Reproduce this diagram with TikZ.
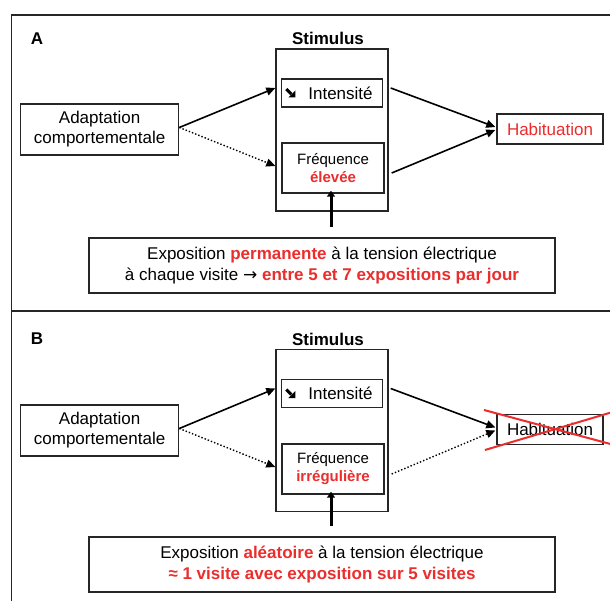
\documentclass[tikz,border=0pt]{standalone}
\usepackage{fontspec}
\setmainfont{Liberation Sans}
\newfontfamily\symfont{DejaVu Sans}
\usetikzlibrary{arrows.meta}
\usetikzlibrary{calc}
\definecolor{alertred}{RGB}{235,45,45}
\newcommand{\alerttext}[1]{\textcolor{alertred}{\bfseries #1}}

\begin{document}
\begin{tikzpicture}[x=1pt,y=-1pt,->,>={Triangle[length=9pt,width=8pt]},line width=1.6pt]
		\tikzset{box/.style = {shape=rectangle, draw=black!85, fill=white, line width=1.4pt, align=center, inner sep=0pt, font=\fontsize{17}{20}\selectfont}}
		\tikzset{title/.style = {inner sep=0pt, font=\bfseries\fontsize{17}{20}\selectfont}}
		\tikzset{panel/.style = {-, draw=black!85, line width=1.6pt}}
		\tikzset{strike/.style = {-, draw=alertred, line width=2pt}}
		\tikzset{push/.style = {line width=3pt, >={Triangle[length=6pt,width=8pt]}}}
		\tikzset{weak/.style = {dotted, line width=1.4pt}}
		\tikzset{down/.style = {-, line width=3pt}}
		\clip (0,0) rectangle (610,601);
		\fill[white] (0,0) rectangle (610,601);
		
		% panel A
		\draw[panel] (11.5,15) rectangle (625,311);
		\node[title] (A-tag) at (37,39) {A};
		\node[title] (A-stimtitle) at (328,38) {Stimulus};
		\node[box, minimum width=112pt, minimum height=162pt] (A-stim) at (332,130) {};
		\node[box, minimum width=101pt, minimum height=28pt] (A-int) at (332,93) {\hspace*{17pt}Intensité};
		\node[box, minimum width=102pt, minimum height=50pt, font=\fontsize{15}{18}\selectfont] (A-freq) at (333,168)
		{ Fréquence\\
			\alerttext{élevée}
		};
		\node[box, minimum width=158pt, minimum height=51pt] (A-adapt) at (99.6,129.5) {Adaptation\\comportementale};
		\node[box, minimum width=106pt, minimum height=30pt, text=alertred] (A-hab) at (550,129) {Habituation};
		\node[box, minimum width=466pt, minimum height=55pt, line width=1.8pt, font=\fontsize{17}{21}\selectfont] (A-expo) at (322,265.5)
		{ Exposition \alerttext{permanente} à la tension électrique\\
			à chaque visite {\symfont →} \alerttext{entre 5 et 7 expositions par jour}
		};
		% lowered intensity mark
		\draw[down] ($(A-int.west)+(5.5,-4)$) -- ($(A-int.west)+(10.5,1)$);
		\fill ($(A-int.west)+(14.5,4.5)$) -- ($(A-int.west)+(14.5,-2.5)$) -- ($(A-int.west)+(7.5,4.5)$) -- cycle;
		\draw ($(A-adapt.east)+(0,-2)$) -- ($(A-stim.west |- A-int)+(0,-5)$);
		\draw[weak] ($(A-adapt.east)+(0,-2)$) -- ($(A-stim.west |- A-freq)+(0,-2)$);
		\draw ($(A-stim.east |- A-int)+(2,-5)$) -- ($(A-hab.west)+(-1,-2)$);
		\draw ($(A-stim.east |- A-freq)+(3,5)$) -- ($(A-hab.west)+(-1,1)$);
		\draw[push] ($(A-expo.north)+(9,-10)$) -- ($(A-freq.south)+(-2,-3)$);
		
		% panel B
		\draw[panel] (11.5,311) rectangle (625,620);
		\node[title] (B-tag) at (37,339) {B};
		\node[title] (B-stimtitle) at (328,339) {Stimulus};
		\node[box, minimum width=112pt, minimum height=162pt] (B-stim) at (332,430.5) {};
		\node[box, minimum width=101pt, minimum height=28pt] (B-int) at (332,393.5) {\hspace*{17pt}Intensité};
		\node[box, minimum width=102pt, minimum height=50pt, font=\fontsize{15}{18}\selectfont] (B-freq) at (333,469)
		{ Fréquence\\
			\alerttext{irrégulière}
		};
		\node[box, minimum width=158pt, minimum height=51pt] (B-adapt) at (99.6,430.5) {Adaptation\\comportementale};
		\node[box, minimum width=106pt, minimum height=30pt] (B-hab) at (550,429.5) {Habituation};
		\node[box, minimum width=466pt, minimum height=55pt, line width=1.8pt, font=\fontsize{17}{21}\selectfont] (B-expo) at (322,564.5)
		{ Exposition \alerttext{aléatoire} à la tension électrique\\
			\alerttext{≈ 1 visite avec exposition sur 5 visites}
		};
		% lowered intensity mark
		\draw[down] ($(B-int.west)+(5.5,-4)$) -- ($(B-int.west)+(10.5,1)$);
		\fill ($(B-int.west)+(14.5,4.5)$) -- ($(B-int.west)+(14.5,-2.5)$) -- ($(B-int.west)+(7.5,4.5)$) -- cycle;
		\draw ($(B-adapt.east)+(0,-2)$) -- ($(B-stim.west |- B-int)+(0,-5)$);
		\draw[weak] ($(B-adapt.east)+(0,-2)$) -- ($(B-stim.west |- B-freq)+(0,-2)$);
		\draw ($(B-stim.east |- B-int)+(2,-5)$) -- ($(B-hab.west)+(-1,-2)$);
		\draw[weak] ($(B-stim.east |- B-freq)+(3,5)$) -- ($(B-hab.west)+(-1,1)$);
		\draw[push] ($(B-expo.north)+(9,-10)$) -- ($(B-freq.south)+(-2,-3)$);
		\draw[strike] ($(B-hab.center)+(-66,-19.5)$) -- ($(B-hab.center)+(66,16)$);
		\draw[strike] ($(B-hab.center)+(-65,20.5)$) -- ($(B-hab.center)+(66,-18.5)$);
		
		\end{tikzpicture}
\end{document}
